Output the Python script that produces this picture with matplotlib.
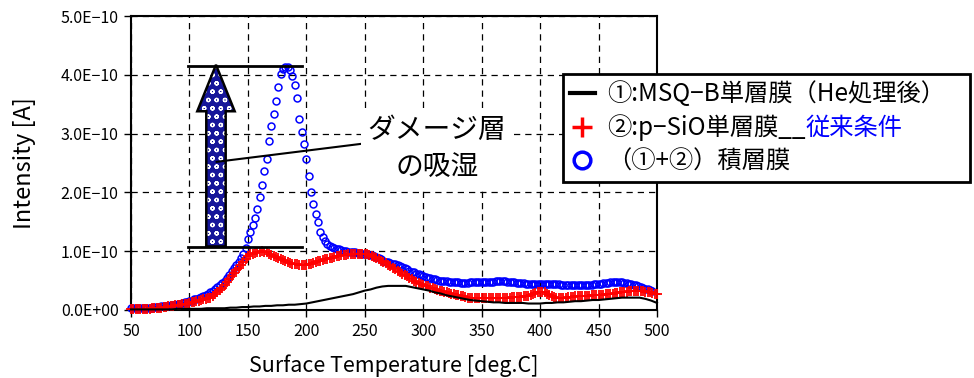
import matplotlib
matplotlib.use("Agg")
import matplotlib.pyplot as plt
from matplotlib.lines import Line2D
from matplotlib.patches import FancyArrow
import numpy as np

plt.rcParams["font.family"] = ["Noto Sans CJK JP", "DejaVu Sans"]
plt.rcParams["hatch.linewidth"] = 0.9

# ---- data (intensity in units of 1e-10 A) ----
UNIT = 1e-10
T_START = 50
STEP_FINE = 2      # deg.C between samples of the (1+2) and p-SiO runs
STEP_COARSE = 5    # deg.C between samples of the MSQ-B run

stack_film = [  # (1+2) laminated film, 50..496 deg.C
    0.03, 0.03, 0.03, 0.03, 0.03, 0.03, 0.04, 0.04, 0.04, 0.04,
    0.05, 0.05, 0.05, 0.06, 0.06, 0.07, 0.07, 0.08, 0.09, 0.09,
    0.10, 0.11, 0.12, 0.13, 0.14, 0.15, 0.16, 0.18, 0.19, 0.21,
    0.22, 0.24, 0.26, 0.28, 0.30, 0.33, 0.36, 0.39, 0.42, 0.46,
    0.50, 0.55, 0.60, 0.66, 0.71, 0.77, 0.82, 0.88, 0.96, 1.06,
    1.20, 1.33, 1.44, 1.56, 1.72, 1.93, 2.13, 2.36, 2.57, 2.88,
    3.13, 3.34, 3.56, 3.80, 4.01, 4.10, 4.14, 4.13, 4.08, 3.98,
    3.82, 3.60, 3.25, 3.02, 2.83, 2.57, 2.28, 2.00, 1.80, 1.63,
    1.50, 1.33, 1.25, 1.17, 1.12, 1.09, 1.07, 1.06, 1.04, 1.03,
    1.02, 1.01, 1.00, 0.99, 0.99, 0.98, 0.98, 0.97, 0.97, 0.96,
    0.95, 0.95, 0.94, 0.93, 0.91, 0.90, 0.88, 0.86, 0.84, 0.82,
    0.81, 0.80, 0.79, 0.78, 0.76, 0.75, 0.73, 0.71, 0.69, 0.67,
    0.65, 0.64, 0.62, 0.61, 0.59, 0.58, 0.56, 0.55, 0.54, 0.53,
    0.52, 0.51, 0.50, 0.50, 0.49, 0.49, 0.48, 0.48, 0.48, 0.47,
    0.47, 0.46, 0.46, 0.46, 0.46, 0.47, 0.47, 0.47, 0.47, 0.47,
    0.47, 0.47, 0.48, 0.48, 0.48, 0.48, 0.49, 0.49, 0.49, 0.49,
    0.49, 0.48, 0.48, 0.47, 0.47, 0.46, 0.46, 0.46, 0.46, 0.45,
    0.45, 0.45, 0.45, 0.45, 0.45, 0.45, 0.45, 0.45, 0.44, 0.44,
    0.44, 0.44, 0.44, 0.44, 0.43, 0.43, 0.43, 0.43, 0.43, 0.43,
    0.43, 0.43, 0.43, 0.43, 0.43, 0.43, 0.43, 0.43, 0.44, 0.44,
    0.45, 0.45, 0.46, 0.46, 0.46, 0.47, 0.47, 0.47, 0.47, 0.47,
    0.47, 0.46, 0.46, 0.45, 0.44, 0.43, 0.42, 0.40, 0.39, 0.37,
    0.36, 0.35, 0.34, 0.33,
]

psio_film = [  # (2) p-SiO single film, 50..500 deg.C
    0.01, 0.01, 0.01, 0.01, 0.01, 0.02, 0.02, 0.02, 0.02, 0.03,
    0.03, 0.03, 0.04, 0.04, 0.05, 0.05, 0.06, 0.06, 0.07, 0.08,
    0.08, 0.09, 0.10, 0.11, 0.11, 0.12, 0.13, 0.14, 0.15, 0.16,
    0.17, 0.18, 0.19, 0.20, 0.21, 0.24, 0.27, 0.30, 0.34, 0.38,
    0.43, 0.48, 0.53, 0.58, 0.63, 0.68, 0.72, 0.76, 0.81, 0.86,
    0.91, 0.95, 0.96, 0.97, 0.98, 0.99, 1.00, 0.99, 0.98, 0.96,
    0.94, 0.92, 0.90, 0.88, 0.87, 0.85, 0.83, 0.82, 0.80, 0.79,
    0.78, 0.78, 0.77, 0.77, 0.77, 0.77, 0.78, 0.79, 0.80, 0.81,
    0.83, 0.84, 0.85, 0.86, 0.87, 0.88, 0.89, 0.90, 0.91, 0.92,
    0.93, 0.93, 0.94, 0.95, 0.95, 0.96, 0.96, 0.96, 0.96, 0.96,
    0.95, 0.95, 0.94, 0.92, 0.90, 0.88, 0.86, 0.84, 0.82, 0.80,
    0.77, 0.75, 0.72, 0.70, 0.67, 0.65, 0.62, 0.59, 0.57, 0.54,
    0.52, 0.50, 0.48, 0.46, 0.44, 0.42, 0.41, 0.40, 0.38, 0.37,
    0.35, 0.34, 0.33, 0.32, 0.31, 0.30, 0.29, 0.28, 0.27, 0.26,
    0.25, 0.24, 0.23, 0.22, 0.21, 0.20, 0.20, 0.20, 0.20, 0.20,
    0.20, 0.20, 0.20, 0.20, 0.20, 0.20, 0.20, 0.21, 0.21, 0.21,
    0.21, 0.21, 0.21, 0.22, 0.22, 0.22, 0.22, 0.22, 0.23, 0.23,
    0.24, 0.25, 0.27, 0.29, 0.30, 0.31, 0.31, 0.30, 0.28, 0.26,
    0.24, 0.22, 0.21, 0.20, 0.20, 0.21, 0.21, 0.22, 0.22, 0.22,
    0.23, 0.23, 0.23, 0.24, 0.24, 0.24, 0.24, 0.25, 0.25, 0.25,
    0.26, 0.26, 0.26, 0.27, 0.27, 0.28, 0.28, 0.29, 0.29, 0.30,
    0.30, 0.31, 0.31, 0.32, 0.32, 0.33, 0.33, 0.33, 0.32, 0.32,
    0.31, 0.30, 0.30, 0.29, 0.28, 0.27,
]

msq_film = [  # (1) MSQ-B single film (He treated), 50..500 deg.C
    0.01, 0.01, 0.01, 0.01, 0.01, 0.01, 0.01, 0.01, 0.02, 0.02,
    0.02, 0.02, 0.02, 0.03, 0.03, 0.03, 0.03, 0.04, 0.04, 0.05,
    0.05, 0.06, 0.06, 0.07, 0.07, 0.08, 0.08, 0.09, 0.09, 0.10,
    0.11, 0.13, 0.15, 0.17, 0.19, 0.21, 0.23, 0.25, 0.27, 0.30,
    0.33, 0.35, 0.38, 0.40, 0.41, 0.41, 0.41, 0.41, 0.39, 0.37,
    0.35, 0.33, 0.30, 0.28, 0.25, 0.23, 0.21, 0.19, 0.17, 0.16,
    0.15, 0.14, 0.13, 0.13, 0.12, 0.12, 0.12, 0.12, 0.11, 0.11,
    0.11, 0.12, 0.12, 0.13, 0.13, 0.14, 0.15, 0.15, 0.16, 0.17,
    0.17, 0.18, 0.19, 0.20, 0.21, 0.21, 0.21, 0.21, 0.19, 0.16,
    0.12,
]

labels = ["①:MSQ−B単層膜（He処理後）", "②:p−SiO単層膜__", "（①+②）積層膜"]
label_blue_tail = "従来条件"
x_ticks = [50, 100, 150, 200, 250, 300, 350, 400, 450, 500]
y_ticks = [0, 1, 2, 3, 4, 5]
y_tick_labels = ["0.0E+00", "1.0E−10", "2.0E−10", "3.0E−10", "4.0E−10", "5.0E−10"]

stack = np.array(stack_film) * UNIT
psio = np.array(psio_film) * UNIT
msq = np.array(msq_film) * UNIT
t_stack = T_START + STEP_FINE * np.arange(len(stack))
t_psio = T_START + STEP_FINE * np.arange(len(psio))
t_msq = T_START + STEP_COARSE * np.arange(len(msq))

fig = plt.figure(figsize=(9.74, 3.78), dpi=100)
ax = fig.add_axes([131 / 974, 68 / 378, 526 / 974, 294 / 378])

ax.plot(t_stack, stack, ls="none", marker="o", ms=5, mfc="none", mec="blue",
        mew=1.1, zorder=3, clip_on=False)
ax.plot(t_psio, psio, ls="none", marker="+", ms=6.5, color="red", mew=1.3,
        zorder=4, clip_on=False)
ax.plot(t_msq, msq, color="black", lw=1.5, zorder=5, clip_on=False)

ax.set_xlim(50, 500)
ax.set_ylim(0, 5 * UNIT)
ax.set_xticks(x_ticks)
ax.set_yticks([v * UNIT for v in y_ticks])
ax.set_yticklabels(y_tick_labels)
ax.tick_params(labelsize=11.5, direction="out", length=5, width=1, pad=4)
ax.grid(True, color="black", ls=(0, (5, 4)), lw=0.9)
ax.set_axisbelow(True)
for s in ax.spines.values():
    s.set_linewidth(1.5)

ax.set_xlabel("Surface Temperature [deg.C]", fontsize=15.5, labelpad=11)
ax.set_ylabel("Intensity [A]", fontsize=17, labelpad=18)

# ---- increase annotation ----
ax.plot([99, 196], [4.15 * UNIT] * 2, color="black", lw=2, zorder=6)
ax.plot([99, 196], [1.07 * UNIT] * 2, color="black", lw=2, zorder=6)
arrow_kw = dict(x=122.7, y=1.08 * UNIT, dx=0, dy=3.09 * UNIT, width=16.6,
                head_width=32, head_length=0.79 * UNIT, length_includes_head=True)
ax.add_patch(FancyArrow(**arrow_kw, facecolor="#16169a", edgecolor="white",
                        lw=0, hatch="oo", zorder=7))
ax.add_patch(FancyArrow(**arrow_kw, fill=False, edgecolor="black", lw=1.8, zorder=8))
ax.plot([123.3, 248.7], [2.52 * UNIT, 2.83 * UNIT], color="black", lw=1.5, zorder=8)
ax.text(311.8, 2.755 * UNIT, "ダメージ層\nの吸湿", ha="center", va="center",
        fontsize=20, linespacing=1.3, zorder=9,
        bbox=dict(facecolor="white", edgecolor="none", pad=5))

# ---- legend ----
handles = [
    Line2D([], [], color="black", lw=3),
    Line2D([], [], color="red", marker="+", ls="none", ms=14, mew=2.5),
    Line2D([], [], color="blue", marker="o", mfc="none", ls="none", ms=12, mew=2.5),
]
leg = ax.legend(handles, labels, loc="upper left", mode="expand",
                bbox_to_anchor=(563 / 974, 1 - 182 / 378, 407 / 974, 108 / 378),
                bbox_transform=fig.transFigure,
                fontsize=17.5, frameon=True, fancybox=False, framealpha=1,
                edgecolor="black", borderpad=0.3, labelspacing=0.3,
                handlelength=1.0, handletextpad=0.5, borderaxespad=0)
leg.get_frame().set_linewidth(2)
leg.set_zorder(10)

fig.canvas.draw()
t2 = leg.get_texts()[1]
bb = t2.get_window_extent()
fig.text(bb.x1 / fig.bbox.width, bb.y0 / fig.bbox.height, label_blue_tail,
         color="blue", fontsize=17.5, ha="left", va="bottom", zorder=11)

fig.savefig("out.png", dpi=100)
